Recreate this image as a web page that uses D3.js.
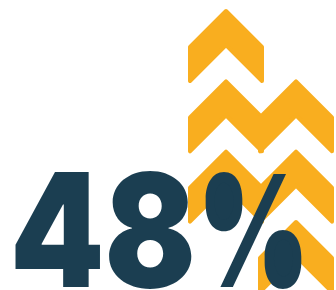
<!DOCTYPE html>
<html>
<head>
<meta charset="utf-8">
<script src="https://cdn.jsdelivr.net/npm/d3@7"></script>
<style>
  body { margin: 0; background: #fff; }
  svg { display: block; }
</style>
</head>
<body>
<svg class="chart"></svg>
<script>
// the headline number
var value = 48;
var suffix = '%';

// chevrons of the up arrow: grid row and column of each one
var chevRows = [0, 1, 1, 2, 2, 3];
var chevCols = [0, 0, 1, 0, 1, 1];

var svgwidth = 336;
var svgheight = 290;

var orange = '#f9ae1f';
var navy = '#1b3e51';

var svg = d3.select('.chart').attr('width', svgwidth).attr('height', svgheight);

// apex position of each chevron
var xscale = d3.scaleLinear().domain([0, 1]).range([226, 296]);
var yscale = d3.scaleLinear().domain([0, 3]).range([9, 220]);

var half = 36;   // half width of a chevron
var thick = 34;  // vertical thickness of the band

var chevron = function(cx, top){
  var pts = [
    [cx - half, top + half],
    [cx, top],
    [cx + half, top + half],
    [cx + half, top + half + thick],
    [cx, top + thick],
    [cx - half, top + half + thick]
  ];
  return d3.line()(pts) + 'Z';
};

var arrows = svg.append('g').classed('arrows', true);

arrows.selectAll('.chev').data(chevRows).enter().append('path')
      .classed('chev', true)
      .attr('d', function(d, i){
        return chevron(xscale(chevCols[i]), yscale(d) + 2);
      })
      .attr('fill', orange)
      .attr('stroke', orange)
      .attr('stroke-width', 4)
      .attr('stroke-linejoin', 'round');

var fs = 158;
var base = 287;

var label = svg.append('g').classed('label', true);

label.append('text')
     .attr('x', 10)
     .attr('y', base)
     .attr('font-family', 'Inter')
     .attr('font-weight', 900)
     .attr('font-size', fs)
     .attr('textLength', 186)
     .attr('lengthAdjust', 'spacingAndGlyphs')
     .attr('fill', navy)
     .text(value);

// percent sign, squeezed, with its counters filled so the rings read as dots
var pfs = 155;
var sx = 0.686;
var pct = label.append('g')
     .attr('transform', 'translate(198,' + base + ') scale(' + sx + ',1)');

pct.append('text')
     .attr('x', 0)
     .attr('y', 0)
     .attr('font-family', 'Inter')
     .attr('font-weight', 900)
     .attr('font-size', pfs)
     .attr('fill', navy)
     .text(suffix);

// counter centres of the glyph, in em
var counters = [[0.244, -0.552], [0.804, -0.186]];
pct.selectAll('.dot').data(counters).enter().append('ellipse')
     .classed('dot', true)
     .attr('cx', function(d){ return d[0] * pfs; })
     .attr('cy', function(d){ return d[1] * pfs; })
     .attr('rx', 0.09 * pfs)
     .attr('ry', 0.12 * pfs)
     .attr('fill', navy);
</script>
</body>
</html>
